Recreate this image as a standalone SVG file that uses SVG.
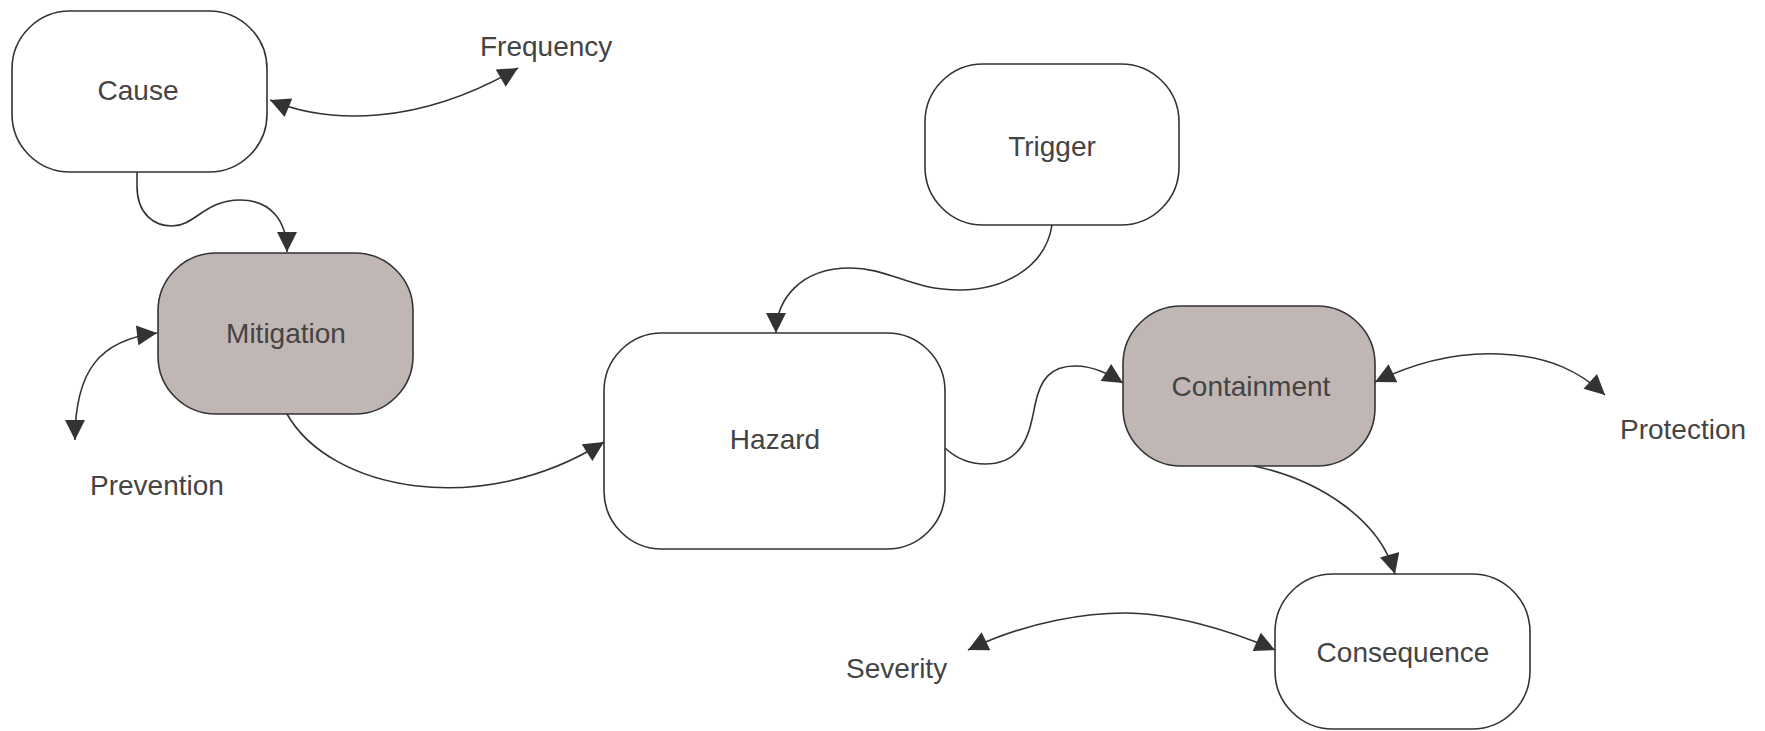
<svg xmlns="http://www.w3.org/2000/svg" width="1765" height="731" viewBox="0 0 1765 731">
<style>
.node rect{stroke:#333;stroke-width:1.6;fill:#fff}
.node.shaded rect{fill:#c0b6b3}
text{font-family:"Liberation Sans",Arial,sans-serif;font-size:28px;fill:#444}
.node text{text-anchor:middle;dominant-baseline:central}
.conn path{fill:none;stroke:#333;stroke-width:1.6}
</style>
<defs>
<marker id="ah" viewBox="0 0 10 10" refX="10" refY="5" markerWidth="22" markerHeight="20" markerUnits="userSpaceOnUse" orient="auto-start-reverse">
<path d="M0,0 L10,5 L0,10 z" fill="#333"/>
</marker>
</defs>
<rect width="1765" height="731" fill="#fff"/>
<g id="cause" class="node"><rect x="12" y="11" width="255" height="161" rx="58"/><text x="138" y="90">Cause</text></g>
<g id="trigger" class="node"><rect x="925" y="64" width="254" height="161" rx="58"/><text x="1052" y="146">Trigger</text></g>
<g id="mitigation" class="node shaded"><rect x="158" y="253" width="255" height="161" rx="58"/><text x="286" y="333">Mitigation</text></g>
<g id="hazard" class="node"><rect x="604" y="333" width="341" height="216" rx="58"/><text x="775" y="439">Hazard</text></g>
<g id="containment" class="node shaded"><rect x="1123" y="306" width="252" height="160" rx="58"/><text x="1251" y="386">Containment</text></g>
<g id="consequence" class="node"><rect x="1275" y="574" width="255" height="155" rx="58"/><text x="1403" y="652">Consequence</text></g>
<g id="labels">
<text x="480" y="56">Frequency</text>
<text x="90" y="495">Prevention</text>
<text x="1620" y="439">Protection</text>
<text x="846" y="678">Severity</text>
</g>
<g id="connectors" class="conn">
<path d="M270,100 C330,125 420,125 518,68" marker-start="url(#ah)" marker-end="url(#ah)"/>
<path d="M137,172 V186 C137,215 155,226 172,226 C195,226 205,200 240,200 C270,200 287,220 287,252" marker-end="url(#ah)"/>
<path d="M157,333 C100,340 75,370 75,440" marker-start="url(#ah)" marker-end="url(#ah)"/>
<path d="M287,414 C330,490 480,520 604,442" marker-end="url(#ah)"/>
<path d="M1052,225 C1045,270 1000,290 960,290 C910,290 890,268 850,268 C800,268 776,300 776,333" marker-end="url(#ah)"/>
<path d="M945,448 C960,462 975,464 985,464 C1025,464 1030,430 1035,405 C1040,380 1050,366 1075,366 C1095,366 1110,375 1123,383" marker-end="url(#ah)"/>
<path d="M1375,382 C1420,360 1460,352 1500,354 C1550,356 1580,372 1605,395" marker-start="url(#ah)" marker-end="url(#ah)"/>
<path d="M1254,466 C1320,480 1380,520 1395,574" marker-end="url(#ah)"/>
<path d="M968,650 C1030,620 1090,613 1125,613 C1170,613 1230,630 1275,650" marker-start="url(#ah)" marker-end="url(#ah)"/>
</g>
</svg>
